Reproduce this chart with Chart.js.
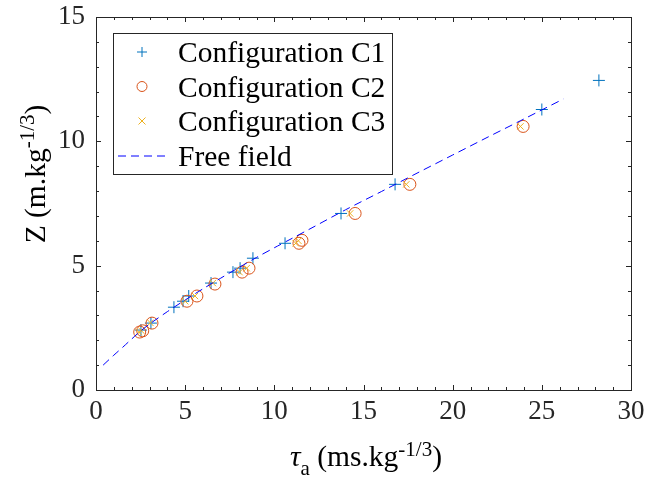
<!DOCTYPE html>
<html>
<head>
<meta charset="utf-8">
<script src="https://cdn.jsdelivr.net/npm/chart.js@4/dist/chart.umd.min.js"></script>
<style>
html,body{margin:0;padding:0;background:#fff;}
#wrap{width:649px;height:493px;position:relative;}
</style>
</head>
<body>
<div id="wrap"><canvas id="c" width="649" height="493"></canvas></div>
<script>
// ---- Data ----
const c1X = [2.52, 3.08, 4.37, 4.88, 5.20, 6.45, 7.68, 8.08, 8.80, 10.60, 13.74, 16.77, 25.00, 28.20];
const c1Y = [2.41, 2.69, 3.33, 3.57, 3.78, 4.30, 4.74, 4.90, 5.30, 5.90, 7.10, 8.27, 11.28, 12.45];

const c2X = [2.45, 2.62, 3.14, 5.10, 5.66, 6.67, 8.19, 8.58, 11.38, 11.55, 14.53, 17.60, 23.95];
const c2Y = [2.33, 2.38, 2.69, 3.57, 3.78, 4.26, 4.74, 4.90, 5.90, 6.02, 7.10, 8.27, 10.60];

const c3X = [2.40, 2.55, 3.05, 5.00, 5.55, 6.55, 8.05, 8.45, 11.20, 11.35, 14.25, 17.40, 23.80];
const c3Y = [2.33, 2.38, 2.70, 3.57, 3.78, 4.30, 4.74, 4.90, 5.90, 6.00, 7.10, 8.27, 10.60];

const ffX = [0.4, 1, 1.5, 2, 2.5, 3, 4, 5, 6, 7, 8, 9, 10, 11, 12, 14, 16, 18, 20, 22, 24, 26.2];
const ffY = [1.0, 1.4, 1.72, 2.05, 2.37, 2.65, 3.15, 3.62, 4.07, 4.5, 4.92, 5.33, 5.72, 6.1, 6.48, 7.25, 7.98, 8.72, 9.45, 10.18, 10.9, 11.7];

const xTicks = [0, 5, 10, 15, 20, 25, 30];
const yTicks = [0, 5, 10, 15];

const seriesNames = ['Configuration C1', 'Configuration C2', 'Configuration C3', 'Free field'];

const toPts = (xs, ys) => xs.map((x, i) => ({x: x, y: ys[i]}));

const FONT = '"Liberation Serif", "Times New Roman", serif';
const AXC = '#262626';
const COLORS = ['#0072BD', '#D95319', '#EDB120', '#0000FF'];

// ---- Plugin: frame, inward ticks, legend, axis titles ----
const deco = {
  id: 'deco',
  afterDraw(chart) {
    const ctx = chart.ctx;
    const a = chart.chartArea;
    const xs = chart.scales.x, ys = chart.scales.y;
    ctx.save();
    // frame
    ctx.strokeStyle = AXC;
    ctx.lineWidth = 1;
    ctx.strokeRect(Math.round(a.left) + 0.5, Math.round(a.top) + 0.5, Math.round(a.right - a.left), Math.round(a.bottom - a.top));
    // ticks
    ctx.beginPath();
    for (let v = 0; v <= 30; v += 1) {
      const px = Math.round(xs.getPixelForValue(v)) + 0.5;
      const len = (v % 5 === 0) ? 5 : 3;
      ctx.moveTo(px, a.bottom); ctx.lineTo(px, a.bottom - len);
      ctx.moveTo(px, a.top); ctx.lineTo(px, a.top + len);
    }
    for (let v = 0; v <= 15; v += 1) {
      const py = Math.round(ys.getPixelForValue(v)) + 0.5;
      const len = (v % 5 === 0) ? 5 : 3;
      ctx.moveTo(a.left, py); ctx.lineTo(a.left + len, py);
      ctx.moveTo(a.right, py); ctx.lineTo(a.right - len, py);
    }
    ctx.stroke();

    // legend
    const lx = 113.5, ly = 33.5, lw = 279, lh = 141;
    ctx.fillStyle = '#fff';
    ctx.fillRect(lx, ly, lw, lh);
    ctx.strokeStyle = AXC;
    ctx.strokeRect(lx, ly, lw, lh);
    const rows = [52, 86.5, 121, 156];
    const mx = 142;
    ctx.font = '29.5px ' + FONT;
    ctx.textBaseline = 'alphabetic';
    ctx.textAlign = 'left';
    rows.forEach((ry, i) => {
      ctx.strokeStyle = COLORS[i];
      ctx.lineWidth = 1;
      ctx.beginPath();
      if (i === 0) {
        ctx.moveTo(mx - 5, ry); ctx.lineTo(mx + 5, ry);
        ctx.moveTo(mx, ry - 5); ctx.lineTo(mx, ry + 5);
      } else if (i === 1) {
        ctx.arc(mx, ry, 5, 0, Math.PI * 2);
      } else if (i === 2) {
        ctx.moveTo(mx - 3.5, ry - 3.5); ctx.lineTo(mx + 3.5, ry + 3.5);
        ctx.moveTo(mx - 3.5, ry + 3.5); ctx.lineTo(mx + 3.5, ry - 3.5);
      } else {
        ctx.setLineDash([8, 5]);
        ctx.moveTo(118, ry); ctx.lineTo(168, ry);
      }
      ctx.stroke();
      ctx.setLineDash([]);
      ctx.fillStyle = '#000';
      ctx.fillText(seriesNames[i], 178, ry + 10);
    });

    // x-axis title: τa (ms.kg-1/3)
    ctx.fillStyle = '#000';
    const big = '29.5px ' + FONT, small = '21px ' + FONT, bigI = 'italic 29.5px ' + FONT;
    const xParts = [
      {t: 'τ', f: bigI, dy: 0},
      {t: 'a', f: small, dy: 9},
      {t: ' (ms.kg', f: big, dy: 0},
      {t: '-1/3', f: small, dy: -10},
      {t: ')', f: big, dy: 0}
    ];
    const drawParts = (parts, cx, base) => {
      let w = 0;
      parts.forEach(p => { ctx.font = p.f; p.w = ctx.measureText(p.t).width; w += p.w; });
      let x = cx - w / 2;
      parts.forEach(p => { ctx.font = p.f; ctx.fillText(p.t, x, base + p.dy); x += p.w; });
    };
    drawParts(xParts, 366, 466);

    // y-axis title: Z (m.kg-1/3)
    ctx.save();
    ctx.translate(45, 174);
    ctx.rotate(-Math.PI / 2);
    const yParts = [
      {t: 'Z (m.kg', f: big, dy: 0},
      {t: '-1/3', f: small, dy: -11},
      {t: ')', f: big, dy: 0}
    ];
    drawParts(yParts, 0, 0);
    ctx.restore();

    ctx.restore();
  }
};

new Chart(document.getElementById('c'), {
  type: 'scatter',
  data: {
    datasets: [
      {label: seriesNames[0], data: toPts(c1X, c1Y), pointStyle: 'cross', pointRadius: 6, pointHoverRadius: 6,
       borderColor: COLORS[0], backgroundColor: COLORS[0], pointBorderWidth: 1, borderWidth: 1, order: 4},
      {label: seriesNames[1], data: toPts(c2X, c2Y), pointStyle: 'circle', pointRadius: 6, pointHoverRadius: 6,
       borderColor: COLORS[1], backgroundColor: 'rgba(0,0,0,0)', pointBorderWidth: 1, borderWidth: 1, order: 3},
      {label: seriesNames[2], data: toPts(c3X, c3Y), pointStyle: 'crossRot', pointRadius: 4.5, pointHoverRadius: 4.5,
       borderColor: COLORS[2], backgroundColor: COLORS[2], pointBorderWidth: 1, borderWidth: 1, order: 2},
      {label: seriesNames[3], data: toPts(ffX, ffY), showLine: true, pointRadius: 0, pointHoverRadius: 0,
       borderColor: COLORS[3], borderWidth: 1, borderDash: [8, 5], tension: 0.3, fill: false, order: 1}
    ]
  },
  options: {
    responsive: false,
    animation: false,
    events: [],
    layout: {padding: {top: 17, right: 18, left: 0, bottom: 0}},
    plugins: {legend: {display: false}, tooltip: {enabled: false}},
    scales: {
      x: {
        type: 'linear', min: 0, max: 30,
        afterBuildTicks: s => { s.ticks = xTicks.map(v => ({value: v})); },
        afterFit: s => { s.height = 103; s.paddingLeft = 0; s.paddingRight = 0; },
        grid: {display: false, drawTicks: false},
        border: {display: false},
        ticks: {font: {family: FONT, size: 27}, color: AXC, padding: 6, maxRotation: 0, autoSkip: false}
      },
      y: {
        type: 'linear', min: 0, max: 15,
        afterBuildTicks: s => { s.ticks = yTicks.map(v => ({value: v})); },
        afterFit: s => { s.width = 96; s.paddingTop = 0; s.paddingBottom = 0; },
        grid: {display: false, drawTicks: false},
        border: {display: false},
        ticks: {font: {family: FONT, size: 27}, color: AXC, padding: 11, autoSkip: false}
      }
    }
  },
  plugins: [deco]
});
</script>
</body>
</html>
